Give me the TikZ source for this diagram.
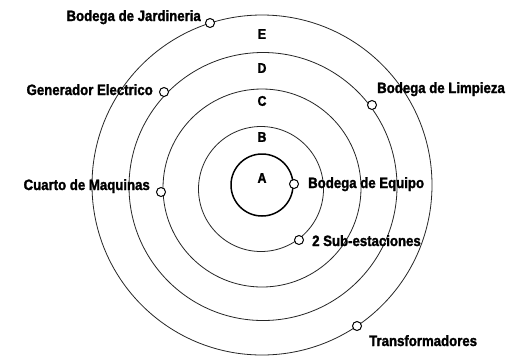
\documentclass[tikz,border=0pt]{standalone}
\usepackage{fontspec}
\setmainfont{Liberation Sans}[BoldFont={Liberation Sans Bold}]
\newfontfamily\heavyfont{Liberation Sans Bold}[FakeBold=1.6,FakeStretch=0.88]
\begin{document}
\begin{tikzpicture}[x=1pt,y=-1pt,
  ring/.style={draw=black!85,line width=0.8pt},
  inner ring/.style={draw=black,line width=1.5pt},
  spot/.style={circle,draw=black,line width=1pt,fill=white,minimum size=9pt,inner sep=0pt},
  lbl/.style={font=\heavyfont\fontsize{15}{16}\selectfont,inner sep=0pt},
  ltr/.style={font=\heavyfont\fontsize{14}{15}\selectfont,inner sep=0pt}]
\useasboundingbox (0,0) rectangle (508,357);
\fill[white] (0,0) rectangle (508,357);
% rings
\draw[ring] (262,185) circle[radius=170];
\draw[ring] (263,186.5) circle[radius=134];
\draw[ring] (262,188) circle[radius=99];
\draw[ring] (261,189) circle[radius=62.5];
\draw[inner ring] (262,185) circle[radius=31];
% ring letters
\node[ltr] (E) at (262,34) {E};
\node[ltr] (D) at (262,68) {D};
\node[ltr] (C) at (262,101) {C};
\node[ltr] (B) at (262,137) {B};
\node[ltr] (A) at (262,178) {A};
% spots
\node[spot] (sJ) at (210,23) {};
\node[spot] (sG) at (164,92) {};
\node[spot] (sL) at (372,105) {};
\node[spot] (sC) at (161,192) {};
\node[spot] (sE) at (294,184) {};
\node[spot] (sS) at (299,240) {};
\node[spot] (sT) at (357,326) {};
% labels
\node[lbl,anchor=base east] (tJ) at (201,21) {Bodega de Jardineria};
\node[lbl,anchor=base east] (tG) at (153,95) {Generador Electrico};
\node[lbl,anchor=base west] (tL) at (377,93) {Bodega de Limpieza};
\node[lbl,anchor=base east] (tC) at (150,190) {Cuarto de Maquinas};
\node[lbl,anchor=base west] (tE) at (308,188) {Bodega de Equipo};
\node[lbl,anchor=base west] (tS) at (312,246) {2 Sub-estaciones};
\node[lbl,anchor=base west] (tT) at (369,346) {Transformadores};
\end{tikzpicture}
\end{document}
